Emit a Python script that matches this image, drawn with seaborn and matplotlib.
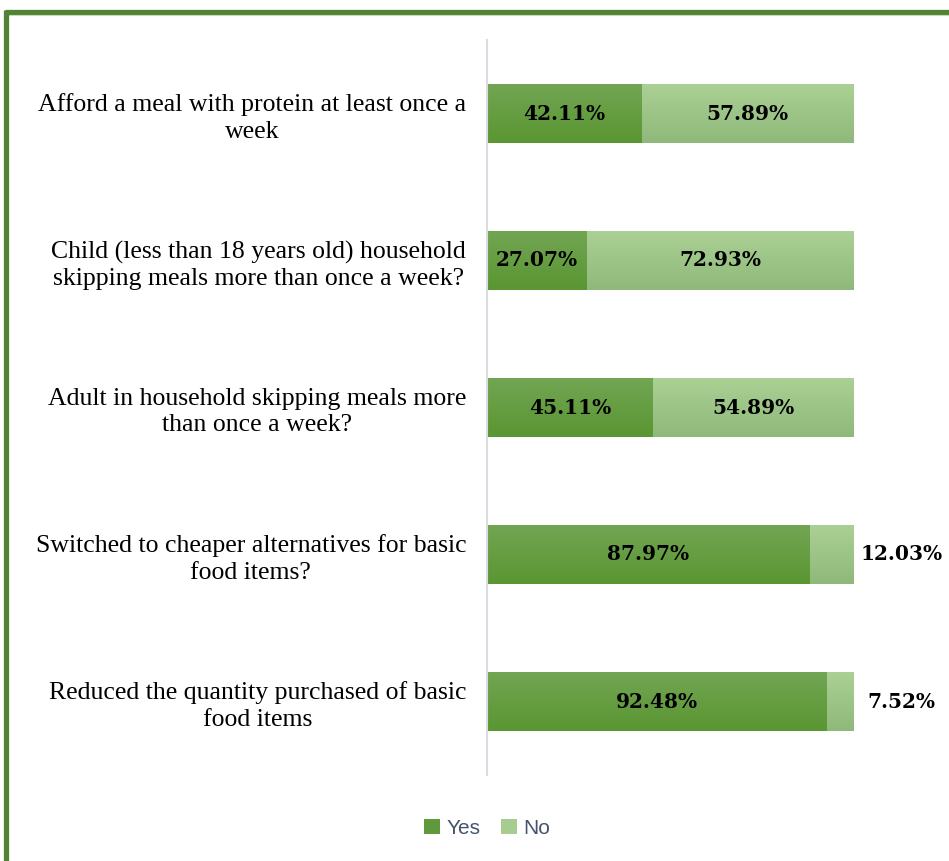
import numpy as np
import pandas as pd
import matplotlib
matplotlib.use("Agg")
import matplotlib.pyplot as plt
from matplotlib.colors import LinearSegmentedColormap
from matplotlib.patches import Patch
from matplotlib.lines import Line2D
import seaborn as sns

# Survey questions and response shares (%)
categories = [
    "Afford a meal with protein at least once a\nweek",
    "Child (less than 18 years old) household\nskipping meals more than once a week?",
    "Adult in household skipping meals more\nthan once a week?",
    "Switched to cheaper alternatives for basic\nfood items?",
    "Reduced the quantity purchased of basic\nfood items",
]
yes = [42.11, 27.07, 45.11, 87.97, 92.48]
no = [57.89, 72.93, 54.89, 12.03, 7.52]

YES_TOP, YES_BOT = "#72a553", "#5a9632"
NO_TOP, NO_BOT = "#abd095", "#8fb97a"

df = pd.DataFrame({"question": categories, "yes": yes, "no": no})
df["total"] = df["yes"] + df["no"]

sns.set_theme(style="white")
W, H = 949, 861
fig = plt.figure(figsize=(W / 100, H / 100), dpi=100)
ax = fig.add_axes([487 / W, 1 - 775 / H, 367 / W, 735 / H])

# Stacked bars: full (yes+no) bar in light green, "yes" share on top
sns.barplot(data=df, x="total", y="question", orient="h", color=NO_BOT,
            width=0.4, ax=ax, linewidth=0, saturation=1)
sns.barplot(data=df, x="yes", y="question", orient="h", color=YES_BOT,
            width=0.4, ax=ax, linewidth=0, saturation=1)

n = len(categories)
# vertical gradient fill inside each bar
grad = np.linspace(0, 1, 64).reshape(-1, 1)
no_cmap = LinearSegmentedColormap.from_list("no", [NO_TOP, NO_BOT])
yes_cmap = LinearSegmentedColormap.from_list("yes", [YES_TOP, YES_BOT])
patches = list(ax.patches)
for i, p in enumerate(patches):
    cmap = no_cmap if i < n else yes_cmap
    x0, y0 = p.get_x(), p.get_y()
    w, h = p.get_width(), p.get_height()
    im = ax.imshow(grad, cmap=cmap, aspect="auto",
                   extent=[x0, x0 + w, y0 + h, y0], origin="upper",
                   interpolation="bilinear", zorder=p.get_zorder() + 0.1 * (i >= n) + 0.05)
    im.set_clip_path(p)
    p.set_facecolor("none")

ax.set_xlim(0, 100)
ax.set_ylim(n - 0.5, -0.5)

# value labels
lab_font = dict(family="DejaVu Serif", fontweight="bold", fontsize=14.5, color="black")
for i, (y_, n_) in enumerate(zip(yes, no)):
    ax.text(y_ / 2, i, f"{y_:.2f}%", ha="center", va="center", zorder=5, **lab_font)
    if n_ >= 20:
        ax.text(y_ + n_ / 2, i, f"{n_:.2f}%", ha="center", va="center", zorder=5, **lab_font)
    else:
        ax.text(113, i, f"{n_:.2f}%", ha="center", va="center", zorder=5,
                clip_on=False, **lab_font)

ax.set_xlabel("")
ax.set_ylabel("")
ax.set_xticks([])
ax.tick_params(axis="y", length=0, pad=15)
for lbl in ax.get_yticklabels():
    lbl.set_fontfamily("Liberation Serif")
    lbl.set_fontsize(18.5)
    lbl.set_color("black")
    lbl.set_multialignment("center")
    lbl.set_linespacing(1.25)
for s in ["top", "right", "bottom"]:
    ax.spines[s].set_visible(False)
ax.spines["left"].set_color("#d9dde3")
ax.spines["left"].set_linewidth(1.5)
ax.set_facecolor("none")

# legend
handles = [Patch(facecolor="#5e9a3a", edgecolor="none", label="Yes"),
           Patch(facecolor="#a6cc90", edgecolor="none", label="No")]
fig.legend(handles=handles, loc="center", bbox_to_anchor=(487 / W, 1 - 828 / H),
           ncol=2, frameon=False, handlelength=0.75, handleheight=0.75,
           handletextpad=0.3, columnspacing=1.0,
           prop={"family": "Liberation Sans", "size": 15}, labelcolor="#44546a")

# frame along the top and left edge
fig.add_artist(Line2D([5 / W, 1], [1 - 11.5 / H] * 2, color="#548235", lw=3.8,
                      solid_capstyle="butt", transform=fig.transFigure))
fig.add_artist(Line2D([7 / W, 1], [1 - 14.5 / H] * 2, color="#c5e0b4", lw=0.8,
                      transform=fig.transFigure))
fig.add_artist(Line2D([6 / W] * 2, [0, 1 - 9.5 / H], color="#548235", lw=3.8,
                      solid_capstyle="butt", transform=fig.transFigure))

fig.savefig("out.png", dpi=100, facecolor="white")
